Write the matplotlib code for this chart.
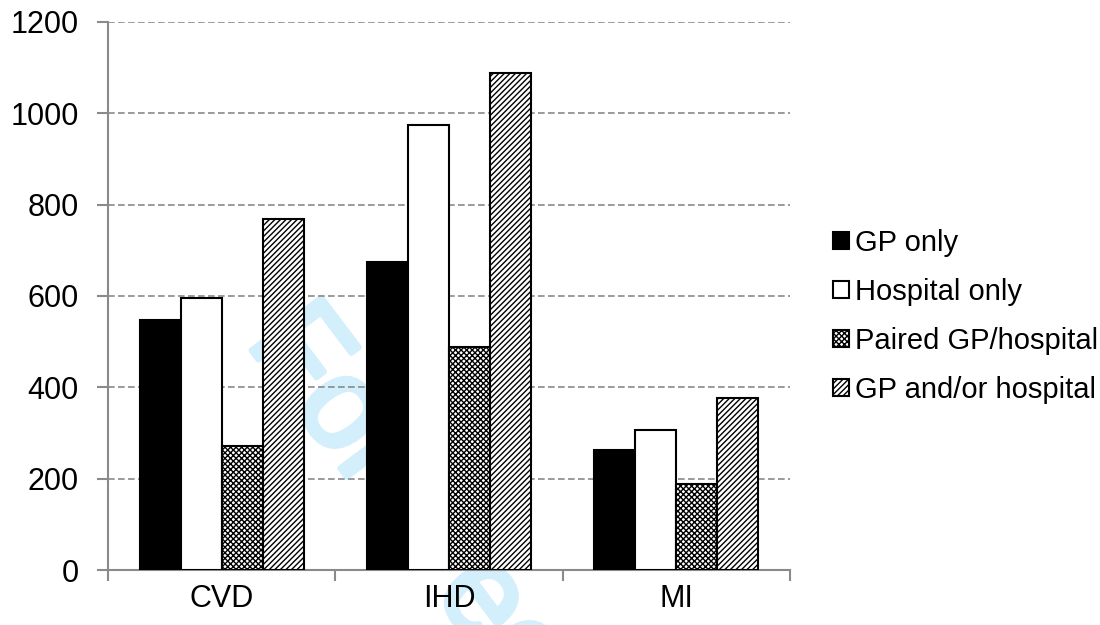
import matplotlib.pyplot as plt
import matplotlib.patheffects as pe
import numpy as np

plt.rcParams['font.family'] = ['Liberation Sans', 'DejaVu Sans']
plt.rcParams['hatch.linewidth'] = 1.0

categories = ["CVD", "IHD", "MI"]
series = ["GP only", "Hospital only", "Paired GP/hospital", "GP and/or hospital"]
gp_only = [547, 674, 263]
hospital_only = [595, 974, 306]
paired = [271, 488, 188]
gp_and_or = [768, 1088, 376]

values = [gp_only, hospital_only, paired, gp_and_or]
faces = ["black", "white", "white", "white"]
hatches = [None, None, "xxxxxx", "//////"]

fig = plt.figure(figsize=(11, 6.25), dpi=100)
ax = fig.add_axes([108 / 1100, 55 / 625, 682 / 1100, 548 / 625])
ax.patch.set_visible(False)

x = np.arange(len(categories))
w = 0.18
for i, (name, vals) in enumerate(zip(series, values)):
    ax.bar(x + (i - 1.5) * w, vals, w, color=faces[i], edgecolor="black",
           hatch=hatches[i], linewidth=1.5, label=name, zorder=3)

ax.set_xlim(-0.5, 2.5)
ax.set_ylim(0, 1200)
ax.set_yticks(range(0, 1201, 200))
ax.yaxis.grid(True, linestyle=(0, (4, 2)), color="#8a8a8a", linewidth=1.2, zorder=0)
ax.set_xticks([-0.5, 0.5, 1.5, 2.5])
ax.set_xticklabels([])
ax.set_xticks(x, minor=True)
ax.set_xticklabels(categories, minor=True)
ax.tick_params(axis="x", which="major", length=8, color="#8a8a8a", width=1.5)
ax.tick_params(axis="x", which="minor", length=0, labelsize=22, pad=10)
ax.tick_params(axis="y", length=8, color="#8a8a8a", width=1.5, labelsize=22, pad=13)
for s in ["top", "right"]:
    ax.spines[s].set_visible(False)
for s in ["left", "bottom"]:
    ax.spines[s].set_color("#8a8a8a")
    ax.spines[s].set_linewidth(1.5)

# watermark, sits behind the bars and grid
wm_col = "#d3effc"
fig.text(0.2227, 0.4528, "For Peer Review", rotation=-53, rotation_mode="anchor",
         color=wm_col, fontsize=92, ha="left", va="baseline", zorder=-1,
         path_effects=[pe.withStroke(linewidth=4, foreground=wm_col)])

ax.legend(loc="center left", bbox_to_anchor=(1.063, 0.463), frameon=False,
          fontsize=21, handlelength=0.55, handleheight=0.55, handletextpad=0.2,
          labelspacing=0.72, borderaxespad=0, borderpad=0)

fig.savefig("out.png", dpi=100)
